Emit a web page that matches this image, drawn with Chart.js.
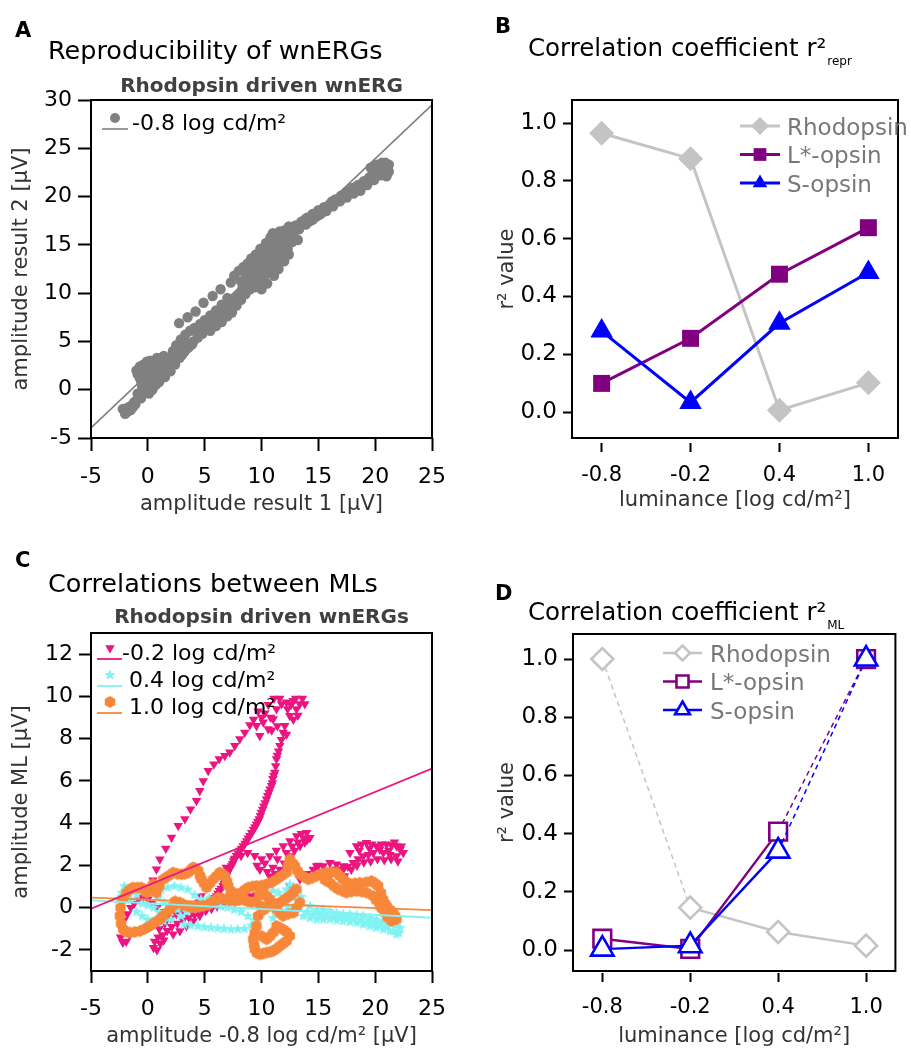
<!DOCTYPE html>
<html>
<head>
<meta charset="utf-8">
<script src="https://cdn.jsdelivr.net/npm/chart.js@4.4.1/dist/chart.umd.min.js"></script>
<style>
  html, body { margin: 0; padding: 0; background: #fff; }
  #wrap { position: relative; width: 911px; height: 1048px; overflow: hidden; }
  canvas { position: absolute; }
</style>
</head>
<body>
<div id="wrap">
  <canvas id="chartA" width="455" height="524" style="left:0;top:0"></canvas>
  <canvas id="chartB" width="456" height="524" style="left:455px;top:0"></canvas>
  <canvas id="chartC" width="455" height="524" style="left:0;top:524px"></canvas>
  <canvas id="chartD" width="456" height="524" style="left:455px;top:524px"></canvas>
</div>
<script>
const FONT = '"DejaVu Sans", sans-serif';
const GRAY = '#808080';
const PINK = '#EC1580';
const CYAN = '#80F2F2';
const ORANGE = '#F7873A';
const RHO = '#C4C4C4';
const PURPLE = '#800080';
const BLUE = '#0000FF';

// ---- panel A: amplitude result 1 vs result 2 (rhodopsin, -0.8 log cd/m²)
const rhoAmp = [
  [-2.2,-2.0],[-2.0,-2.5],[-1.8,-2.3],[-1.5,-2.1],[-1.3,-1.8],[-1.1,-1.5],[-1.4,-1.6],[-1.7,-1.8],[-1.0,-1.1],[-0.8,-0.6],
  [-0.6,-0.2],[-0.9,-0.4],[-0.5,0.3],[-0.3,0.5],[-0.6,0.9],[-0.9,1.6],[-1.0,2.0],[-0.7,2.4],[-0.4,2.6],[-0.1,2.9],
  [0.2,3.0],[0.5,2.8],[0.2,2.5],[-0.2,2.0],[0.0,1.6],[0.3,1.2],[0.6,1.6],[0.9,2.0],[1.2,2.6],[1.5,3.0],
  [1.8,3.2],[1.4,3.5],[1.1,3.2],[0.8,3.3],[1.3,1.8],[1.0,1.2],[0.7,0.5],[0.4,0.0],[0.1,-0.4],[0.5,0.4],
  [1.0,0.8],[1.5,1.3],[2.0,1.9],[2.4,2.6],[2.8,3.3],[3.2,3.9],[3.6,4.4],[2.2,4.0],[2.5,4.6],[2.9,5.2],
  [3.3,5.7],[3.7,6.1],[4.1,6.4],[4.6,6.8],[5.0,7.2],[5.5,7.7],[6.0,8.2],[6.5,8.8],[7.0,9.5],[4.0,5.0],
  [4.4,5.4],[4.8,5.8],[5.2,6.3],[5.7,6.7],[6.2,7.2],[6.7,7.8],[7.2,8.4],[7.6,9.1],[8.0,9.8],[8.3,10.4],
  [8.6,11.0],[8.9,11.6],[2.75,6.9],[3.5,7.5],[4.2,8.1],[4.9,9.0],[5.7,9.7],[6.4,10.4],[7.3,11.1],[7.6,11.8],
  [8.0,12.3],[8.2,11.2],[8.6,12.0],[9.0,12.6],[9.4,13.0],[9.8,13.5],[10.2,14.0],[10.6,14.5],[11.0,15.0],[11.3,15.6],
  [10.8,15.8],[10.4,15.2],[9.9,14.6],[9.5,14.0],[9.1,13.6],[8.8,13.1],[8.4,12.7],[9.2,12.0],[9.6,12.4],[10.0,12.9],
  [10.4,13.3],[10.8,13.8],[11.2,14.2],[11.6,14.8],[12.0,15.2],[12.3,14.6],[11.8,13.9],[11.4,13.2],[11.0,12.6],[10.6,12.1],
  [10.2,11.6],[9.8,11.1],[9.4,10.6],[10.0,10.4],[10.5,11.0],[11.1,11.8],[11.5,12.5],[12.0,13.3],[12.4,14.0],[11.0,16.2],
  [11.6,16.4],[12.2,16.1],[12.6,16.6],[13.0,17.0],[13.5,17.4],[14.0,17.8],[14.5,18.2],[15.0,18.6],[15.5,18.9],[16.0,19.2],
  [16.5,19.7],[17.0,20.1],[17.5,20.5],[18.0,20.9],[18.5,21.2],[19.0,21.6],[19.5,22.0],[20.0,22.4],[20.5,22.8],[21.0,23.2],
  [20.6,23.5],[20.1,23.3],[19.6,23.0],[21.2,22.6],[21.0,22.1],[20.5,22.2],[19.9,21.7],[19.3,21.2],[18.7,20.6],[18.1,20.3],
  [17.5,19.9],[16.9,19.5],[16.3,19.0],[15.7,18.5],[15.1,18.1],[14.5,17.6],[13.9,17.1],[13.3,16.6],[12.8,16.0],[13.2,15.5],
  [12.7,15.3],
  [-1.2,-1.3],[-0.6,-0.9],[-0.2,-0.1],[0.2,0.3],[-0.4,1.2],[-0.7,1.2],[0.4,2.0],[0.7,2.3],[1.6,2.2],[1.9,2.6],
  [2.2,3.0],[2.6,3.6],[3.0,4.3],[3.4,4.8],[3.0,3.6],[3.4,4.2],[3.9,4.7],[4.3,5.9],[4.7,6.3],[5.1,6.6],
  [5.4,7.1],[5.9,7.4],[6.3,7.6],[6.8,8.2],[7.3,8.8],[7.8,9.5],[5.5,6.1],[6.0,6.6],[6.5,7.0],[7.0,7.6],
  [7.4,8.0],[7.8,8.7],[8.2,9.3],[8.6,9.9],[9.0,10.4],[9.3,11.2],[8.4,10.0],[8.8,10.7],[9.0,11.5],[9.7,12.0],
  [10.1,12.4],[10.7,12.9],[11.0,13.4],[11.4,13.8],[10.3,13.7],[10.7,14.1],[11.2,14.6],[11.6,15.3],[12.0,15.8],[11.9,14.4],
  [12.5,15.4],[9.6,13.2],[10.0,13.9],[12.0,16.5],[12.4,16.9],[12.9,16.4],[13.4,17.0],[13.8,17.6],[14.2,17.4],[14.8,17.9],
  [15.3,18.3],[15.8,18.8],[16.2,19.5],[16.8,19.8],[17.3,20.2],[17.8,20.6],[18.3,21.0],[18.9,21.4],[19.4,21.8],[19.9,22.2],
  [20.3,22.5],[20.8,22.9],[20.3,23.0],[20.9,23.5],[21.2,23.3]
];
const fitA = [[-5, -3.95], [25, 29.5]];
const ticksAx = [-5, 0, 5, 10, 15, 20, 25];
const ticksAy = [-5, 0, 5, 10, 15, 20, 25, 30];

// ---- panels B and D: r² values per luminance
const luminance = [-0.8, -0.2, 0.4, 1.0];
const rhoRepr = [0.965, 0.877, 0.006, 0.101];
const lRepr = [0.099, 0.255, 0.477, 0.638];
const sRepr = [0.280, 0.033, 0.307, 0.483];
const rhoML = [1.0, 0.146, 0.062, 0.015];
const lML = [0.039, 0.004, 0.407, 1.0];
const sML = [0.003, 0.015, 0.340, 1.0];
const rTicks = [0, 0.2, 0.4, 0.6, 0.8, 1.0];

// ---- panel C: amplitude of other MLs vs -0.8 log cd/m²
const mlPink = [
  [-2.4,-1.4],[-2.2,-1.65],[-1.9,-1.6],[-1.6,-1.3],[-2.3,-1.0],[-2.1,-0.6],[-1.8,-0.3],[-1.5,0.0],[-1.2,0.2],[-0.8,0.4],
  [-0.4,0.5],[0.0,0.4],[0.4,0.2],[0.8,0.0],[1.2,-0.2],[1.6,-0.3],
  [0.5,-1.9],[0.8,-2.0],[0.6,-1.6],[0.9,-1.4],[1.3,-1.3],[1.7,-1.1],[2.1,-0.9],[2.6,-0.75],[3.1,-0.6],[3.6,-0.45],
  [4.1,-0.35],[4.6,-0.25],[5.1,-0.15],[5.6,-0.05],[6.1,0.05],[6.6,0.15],[7.1,0.25],[7.6,0.35],[8.1,0.4],[8.6,0.45],
  [9.1,0.55],[9.6,0.6],
  [0.2,0.8],[0.45,1.3],[0.76,1.82],[1.06,2.29],[1.58,2.8],[2.08,3.32],[2.67,3.87],[3.26,4.19],[3.75,4.66],[4.28,5.06],
  [4.57,5.53],[4.87,6.0],[5.31,6.48],[5.81,6.79],[6.28,7.03],[6.77,7.19],[7.21,7.35],[7.65,7.66],[8.09,7.98],[8.53,8.29],
  [8.97,8.64],
  [9.56,8.61],[9.85,8.14],[10.15,8.77],[10.59,8.45],[11.03,8.93],[11.32,9.4],[11.76,9.64],[12.2,9.72],[12.79,9.79],[13.37,9.64],
  [13.81,9.64],[13.08,9.4],[12.49,9.08],[12.05,8.61],[10.3,9.2],[10.8,9.0],
  [9.3,8.9],[9.7,9.3],[10.0,9.0],[10.6,9.6],[11.1,9.9],[11.6,9.9],[12.3,9.4],[12.6,9.6],[13.0,9.9],[13.6,9.9],
  [13.2,9.1],[12.8,8.9],[10.9,8.4],[11.4,8.6],[12.2,8.2],
  [11.9,8.29],[11.61,7.66],[11.4,7.2],[11.32,7.03],[11.17,6.4],[11.0,6.1],[10.88,5.77],[10.65,5.45],[10.44,5.13],[10.2,4.8],
  [9.99,4.5],[9.8,4.2],[9.56,3.95],[9.3,3.7],[8.97,3.4],[8.7,3.15],[8.39,2.92],[8.1,2.7],[7.8,2.45],[7.55,2.2],
  [7.36,1.97],[7.1,1.75],[6.92,1.5],[6.75,1.25],[6.63,1.03],[6.3,0.8],[6.04,0.55],[5.8,0.4],[5.6,0.24],[5.16,-0.08],
  [4.57,-0.39],[3.99,-0.63],[3.4,-0.87],[2.82,-1.11],[2.23,-1.26],
  [11.75,7.95],[11.5,7.4],[11.25,6.7],[11.08,6.25],[10.95,5.9],[10.75,5.6],[10.55,5.3],[10.32,4.95],[10.1,4.65],[9.9,4.35],
  [9.68,4.08],[9.43,3.82],[9.13,3.55],[8.83,3.28],[8.55,3.03],[8.25,2.8],[7.95,2.57],[7.67,2.33],[7.45,2.08],[7.23,1.86],
  [7.0,1.62],[6.83,1.37],[6.7,1.14],[6.45,0.9],[6.17,0.67],[5.9,0.47],
  [4.68,0.55],[5.4,1.0],[6.14,1.49],[6.9,1.9],[7.61,2.28],[8.2,2.45],[8.78,2.6],[9.4,2.45],[9.86,1.81],[10.3,2.1],
  [10.74,2.44],[11.3,2.7],[11.91,2.92],[12.5,3.15],[13.09,3.39],[13.5,3.5],[13.97,3.55],[14.26,3.31],[13.8,3.1],[13.38,2.92],
  [12.9,2.7],[12.5,2.44],[12.0,2.1],[11.62,1.81],[11.2,1.6],[10.74,1.49],[12.5,1.02],[13.38,1.34],
  [12.2,2.6],[12.7,2.9],[13.2,3.1],[13.7,3.3],[14.0,3.2],[11.4,2.3],[11.0,1.9],[10.5,1.7],[10.0,2.3],[9.6,2.0],
  [14.0,1.6],[14.55,1.81],[15.0,2.0],[15.43,1.97],[16.02,2.13],[16.6,2.05],[17.19,1.97],[17.78,2.6],[18.36,2.92],[18.8,3.0],
  [19.24,3.07],[19.7,3.0],[20.12,2.92],[20.55,3.0],[21.0,3.0],[21.45,2.95],[21.88,2.92],[22.2,2.75],[22.47,2.6],[21.88,2.44],
  [21.3,2.5],[20.71,2.6],[19.83,2.6],[19.4,2.5],[18.95,2.44],[18.5,2.3],[18.07,2.13],[17.6,1.95],[17.19,1.81],[16.75,1.8],
  [16.31,1.81],[14.85,1.97],
  [14.3,1.5],[14.9,1.6],[15.5,1.7],[16.1,1.6],[16.7,1.55],[17.3,1.5],[17.9,1.8],[18.4,2.0],[19.0,2.15],[19.6,2.2],
  [20.2,2.3],[20.8,2.25],[21.4,2.3],[22.0,2.2],[22.3,2.9],[21.7,3.1],[21.2,2.7],[20.4,2.75],[19.5,2.8],[18.6,2.7],
  [1.1,-1.7],[1.4,-1.55],[1.0,-1.0],[1.5,-0.75],[2.0,-0.5],[2.5,-0.3],[3.0,-0.2],[3.5,-0.05],[4.0,0.1],[4.5,0.25]
];
const mlCyan = [
  [-2.6,0.4],[-2.3,0.7],[-2.07,1.02],[-1.5,0.95],[-0.89,0.86],[-0.3,0.78],[0.28,0.7],[0.9,0.45],[1.45,0.23],[2.0,0.05],
  [2.62,-0.09],[2.04,-0.56],[1.4,-0.65],[0.87,-0.72],[0.4,-0.65],[-0.01,-0.56],[-0.5,-0.4],[-1.0,-0.2],
  [3.2,-0.8],[3.8,-0.85],[4.4,-0.88],[4.97,-0.92],[5.55,-0.95],[6.14,-0.98],[6.7,-1.0],[7.32,-1.03],[7.9,-1.02],[8.49,-1.0],
  [9.1,-0.85],[9.66,-0.72],[10.0,-0.3],[10.25,0.07],[9.7,0.15],[9.08,0.23],[8.3,0.3],[7.61,0.39],[6.9,0.45],[6.14,0.47],
  [5.4,0.45],[4.68,0.39],[4.1,0.6],[3.5,0.86],[2.9,0.95],[2.33,1.02],[1.75,0.95],[1.16,0.86],
  [10.8,0.5],[11.5,0.7],[12.2,0.86],[12.8,0.6],[13.2,0.3],[13.67,-0.4],[14.26,0.07],[14.85,-0.1],[15.43,-0.09],[16.0,-0.15],
  [16.6,-0.25],[17.19,-0.3],[17.78,-0.32],[18.36,-0.36],[18.95,-0.4],[19.54,-0.48],[20.12,-0.56],[20.7,-0.64],[21.29,-0.72],[21.75,-0.85],
  [22.18,-0.96],[21.88,-1.27],[21.3,-1.1],[20.71,-1.03],[20.1,-0.95],[19.54,-0.88],[18.95,-0.8],[18.36,-0.72],[17.78,-0.68],[17.19,-0.64],
  [16.6,-0.6],[16.02,-0.56],[15.43,-0.56],[14.85,-0.56],[14.26,-0.48],[13.0,-0.2],[12.3,0.0],[11.6,-0.2],[11.0,-0.5],
  [-2.0,0.5],[-1.5,0.4],[-1.0,0.6],[-0.5,0.2],[0.0,0.1],[0.5,0.0],[1.0,-0.2],[1.5,-0.3],[2.9,-0.4],[3.4,-0.2],
  [4.0,0.0],[4.6,0.1],[5.2,0.1],[5.8,0.15],[6.4,0.05],[7.0,0.0],[7.6,-0.1],[8.2,-0.2],[8.8,-0.4],[9.4,-0.6],
  [10.5,0.4],[11.0,0.8],[12.5,1.1],[13.5,0.5],[14.0,-0.2],[14.5,-0.35],[15.1,-0.35],[15.7,-0.4],[16.3,-0.45],[16.9,-0.5],
  [17.5,-0.5],[18.1,-0.55],[18.7,-0.6],[19.3,-0.7],[19.9,-0.75],[20.4,-0.8],[21.0,-0.9],[21.6,-1.1],[22.1,-1.2]
];
const mlOrange = [
  [-2.46,-0.39],[-2.35,-0.75],[-2.17,-1.03],[-1.9,-1.15],[-1.58,-1.18],[-1.15,-1.15],[-0.7,-1.11],[-0.25,-1.0],[0.18,-0.87],[0.62,-0.7],
  [1.06,-0.55],[1.35,-0.4],[1.64,-0.24],[1.95,-0.08],[2.23,0.08],[-2.4,0.0],[-2.2,0.4],[-1.88,0.71],[-1.6,0.85],[-1.29,0.95],
  [-0.9,0.95],[-0.56,0.95],[-0.3,0.85],[-0.12,0.71],[0.2,0.9],[0.47,1.11],[0.76,0.71],[1.0,1.0],[1.35,1.34],[1.8,1.5],
  [2.23,1.66],[2.6,1.6],[2.96,1.58],[3.25,1.6],[3.55,1.66],[3.8,1.8],[3.99,1.9],[4.2,1.85],[4.43,1.74],[4.6,1.5],
  [4.72,1.34],[4.95,1.15],[5.16,0.95],[5.45,1.15],[5.75,1.34],[6.05,1.5],[6.33,1.66],[6.55,1.6],[6.77,1.5],[6.95,1.25],
  [7.07,1.03],[7.3,0.8],[7.51,0.55],[7.9,0.65],[8.24,0.71],[8.55,0.85],[8.83,0.95],[9.2,1.0],[9.56,1.03],[10.0,1.05],
  [10.44,1.11],[10.9,1.2],[11.32,1.34],[11.75,1.5],[12.2,1.66],[12.35,2.0],[12.49,2.29],[12.75,2.1],[12.93,1.97],[13.15,1.75],
  [13.37,1.58],[13.75,1.45],[14.11,1.34],[14.5,1.42],[14.84,1.5],[15.3,1.6],[15.72,1.66],[16.15,1.68],[16.6,1.66],[16.9,1.5],
  [17.18,1.34],[17.5,1.2],[17.77,1.11],[18.2,1.15],[18.65,1.18],[19.2,1.2],[19.68,1.26],[20.0,1.15],[20.26,1.03],[20.5,0.7],
  [20.7,0.39],[20.85,0.2],[21.0,0.08],[21.3,-0.1],[21.58,-0.24],[21.75,-0.4],[21.88,-0.55],[21.44,-0.63],[21.1,-0.45],[20.85,-0.24],
  [20.6,-0.05],[20.41,0.08],[20.1,0.35],[19.82,0.55],[19.24,0.71],[18.8,0.76],[18.36,0.79],[17.9,0.76],[17.48,0.71],[17.1,0.8],
  [16.75,0.87],[16.4,1.0],[16.01,1.18],[15.6,1.3],
  [2.4,0.3],[2.82,0.24],[3.1,0.15],[3.4,0.08],[3.75,0.03],[4.13,0.0],[4.5,0.04],[4.87,0.08],[5.25,0.15],[5.6,0.24],
  [5.9,0.35],[6.19,0.47],[6.55,0.43],[6.92,0.39],[7.3,0.35],[7.65,0.32],[8.0,0.35],[8.39,0.39],[8.75,0.3],[9.12,0.24],
  [9.7,-0.39],[9.56,-0.87],[9.4,-1.2],[9.27,-1.5],[9.35,-1.75],[9.41,-1.97],[9.6,-2.15],[9.85,-2.21],[10.15,-2.17],[10.44,-2.13],
  [10.75,-2.1],[11.03,-2.05],[11.3,-1.95],[11.61,-1.82],[11.9,-1.7],[12.2,-1.58],[12.49,-1.34],[12.2,-1.15],[11.9,-1.03],[11.6,-0.95],
  [11.32,-0.87],[11.03,-1.18],[10.75,-1.35],[10.44,-1.5],[9.99,-1.34],
  [10.2,-0.1],[10.73,0.08],[11.2,0.15],[11.61,0.24],[12.05,0.4],[12.49,0.55],[12.8,0.7],[13.08,0.87],[13.37,0.24],[13.1,0.0],
  [12.79,-0.24],[12.35,-0.3],[11.9,-0.39],[11.6,-0.25],[11.32,-0.08],[11.0,0.2],[10.73,0.39],[10.45,0.55],[10.15,0.71],[9.8,0.6],
  [9.5,0.3],[9.9,0.1]
];
const fitPink = [[-5, -0.05], [25, 6.58]];
const fitCyan = [[-5, 0.34], [25, -0.48]];
const fitOrange = [[-5, 0.47], [25, -0.12]];
const ticksCx = [-5, 0, 5, 10, 15, 20, 25];
const ticksCy = [-2, 0, 2, 4, 6, 8, 10, 12];

const pairs = arr => arr.map(([x, y]) => ({ x, y }));
const zipXY = (xs, ys) => xs.map((x, i) => ({ x, y: ys[i] }));

// small canvases used as marker shapes that Chart.js lacks
function markerCanvas(r, color, draw) {
  const c = document.createElement('canvas');
  c.width = c.height = Math.ceil(r * 2 + 2);
  const g = c.getContext('2d');
  g.fillStyle = color;
  g.beginPath();
  draw(g, c.width / 2, r);
  g.closePath();
  g.fill();
  return c;
}
const star = (r, color) => markerCanvas(r, color, (g, m, R) => {
  for (let i = 0; i < 10; i++) {
    const rr = i % 2 ? R * 0.45 : R;
    const a = -Math.PI / 2 + i * Math.PI / 5;
    g.lineTo(m + rr * Math.cos(a), m + rr * Math.sin(a));
  }
});
const hexagon = (r, color) => markerCanvas(r, color, (g, m, R) => {
  for (let i = 0; i < 6; i++) {
    const a = -Math.PI / 2 + i * Math.PI / 3;
    g.lineTo(m + R * Math.cos(a), m + R * Math.sin(a));
  }
});

function scale(o) {
  return {
    type: 'linear', position: o.pos, min: o.min, max: o.max,
    afterFit(s) {
      if (o.pos === 'left') s.width = o.size; else s.height = o.size;
      // edge labels may overhang; keep the plot box where it is
      s.paddingLeft = s.paddingRight = s.paddingTop = s.paddingBottom = 0;
    },
    afterBuildTicks(s) { s.ticks = o.ticks.map(v => ({ value: v })); },
    ticks: {
      callback: o.fmt || (v => String(v)), color: '#000', padding: o.pad,
      maxRotation: 0, autoSkip: false, font: { family: FONT, size: o.fs || 22 }
    },
    grid: { drawOnChartArea: false, tickLength: o.tl, tickColor: '#000', tickWidth: 2, tickBorderDash: o.dash || [] },
    border: { display: false },
    title: {
      display: true, text: o.title, color: '#333',
      padding: o.pos === 'left' ? { top: o.tpad, bottom: 0 } : { top: 0, bottom: o.tpad },
      font: { family: FONT, size: 21, lineHeight: 1 }
    }
  };
}

function drawLegend(chart, L) {
  const ctx = chart.ctx;
  L.items.forEach((it, i) => {
    const mk = chart.data.datasets[it.marker];
    const ln = chart.data.datasets[it.line];
    const y = L.y0 + i * L.dy;
    ctx.save();
    ctx.setLineDash([]);
    ctx.strokeStyle = ln.borderColor;
    ctx.lineWidth = L.lineWidth;
    ctx.beginPath();
    ctx.moveTo(L.x0, y + L.lineDy);
    ctx.lineTo(L.x1, y + L.lineDy);
    ctx.stroke();
    ctx.fillStyle = mk.pointBackgroundColor;
    ctx.strokeStyle = mk.pointBorderColor;
    ctx.lineWidth = mk.pointBorderWidth;
    Chart.helpers.drawPoint(ctx, {
      pointStyle: mk.pointStyle, rotation: mk.pointRotation || 0,
      radius: it.radius || mk.pointRadius, borderWidth: mk.pointBorderWidth
    }, L.mx, y);
    ctx.fillStyle = L.color;
    ctx.font = L.font;
    ctx.textAlign = 'left';
    ctx.textBaseline = 'alphabetic';
    ctx.fillText(mk.label, L.tx, y + L.textDy);
    ctx.restore();
  });
}

function decor(texts, legend) {
  return {
    id: 'decor',
    afterDraw(chart) {
      const ctx = chart.ctx, a = chart.chartArea;
      ctx.save();
      ctx.strokeStyle = '#000';
      ctx.lineWidth = 2;
      ctx.strokeRect(a.left, a.top, a.right - a.left, a.bottom - a.top);
      texts.forEach(t => {
        ctx.font = t.font;
        ctx.fillStyle = t.color || '#000';
        ctx.textAlign = t.align || 'left';
        ctx.textBaseline = 'alphabetic';
        ctx.fillText(t.text, t.x, t.y);
        if (t.sub) {
          const w = ctx.measureText(t.text).width;
          ctx.font = t.sub.font;
          ctx.fillText(t.sub.text, t.x + w + 1, t.y + t.sub.dy);
        }
      });
      ctx.restore();
      if (legend) drawLegend(chart, legend);
    }
  };
}

const common = {
  responsive: false, animation: false,
  plugins: { legend: { display: false }, tooltip: { enabled: false }, title: { display: false } }
};

// ---------- A
new Chart(document.getElementById('chartA'), {
  type: 'scatter',
  data: {
    datasets: [
      { label: '-0.8 log cd/m²', data: pairs(rhoAmp), pointStyle: 'circle', pointRadius: 5.2,
        pointBackgroundColor: GRAY, pointBorderColor: GRAY, pointBorderWidth: 0, order: 2 },
      { label: 'fit', data: pairs(fitA), showLine: true, pointRadius: 0, borderColor: GRAY, borderWidth: 1.6, order: 1 }
    ]
  },
  options: Object.assign({}, common, {
    layout: { padding: { left: 0, top: 100, right: 23, bottom: 0 } },
    scales: {
      x: scale({ pos: 'bottom', min: -5, max: 25, ticks: ticksAx, size: 86, tl: 13, pad: 13, title: 'amplitude result 1 [µV]', tpad: 9 }),
      y: scale({ pos: 'left', min: -5, max: 30, ticks: ticksAy, size: 91, tl: 13, pad: 6, title: 'amplitude result 2 [µV]', tpad: 11 })
    }
  }),
  plugins: [decor([
    { text: 'A', x: 15, y: 37, font: 'bold 21px ' + FONT },
    { text: 'Reproducibility of wnERGs', x: 48, y: 59, font: '25.5px ' + FONT },
    { text: 'Rhodopsin driven wnERG', x: 261.5, y: 92, align: 'center', color: '#404040', font: 'bold 20px ' + FONT }
  ], {
    items: [{ marker: 0, line: 1, radius: 5 }],
    y0: 118, dy: 0, x0: 102, x1: 128, mx: 115, tx: 132, lineDy: 11, textDy: 12,
    lineWidth: 1.6, color: '#000', font: '22px ' + FONT
  })]
});

// ---------- B
function rSeries(label, values, color, style, radius, order, extra) {
  return Object.assign({
    label, data: zipXY(luminance, values), showLine: true, tension: 0,
    borderColor: color, borderWidth: 3,
    pointStyle: style, pointRadius: radius,
    pointBackgroundColor: color, pointBorderColor: color, pointBorderWidth: 0, order
  }, extra || {});
}
const lumScales = (top) => ({
  x: scale({ pos: 'bottom', min: -1.0, max: 1.2, ticks: luminance, size: top.xsize, tl: top.xtl, pad: top.xpad,
             dash: top.dash, fs: 21, fmt: v => v.toFixed(1), title: 'luminance [log cd/m²]', tpad: top.xtpad }),
  y: scale({ pos: 'left', min: top.ymin, max: top.ymax, ticks: rTicks, size: top.ysize, tl: 9, pad: 6, fs: 23,
             fmt: v => v.toFixed(1), title: 'r² value', tpad: 42 })
});

new Chart(document.getElementById('chartB'), {
  type: 'scatter',
  data: {
    datasets: [
      rSeries('Rhodopsin', rhoRepr, RHO, 'rectRot', 12.5, 3),
      rSeries('L*-opsin', lRepr, PURPLE, 'rect', 12, 2),
      rSeries('S-opsin', sRepr, BLUE, 'triangle', 13, 1)
    ]
  },
  options: Object.assign({}, common, {
    layout: { padding: { left: 0, top: 100, right: 1, bottom: 0 } },
    scales: lumScales({ xsize: 86, xtl: 14, xpad: 11, dash: [0, 5, 9, 100], xtpad: 13, ymin: -0.09, ymax: 1.08, ysize: 117 })
  }),
  plugins: [decor([
    { text: 'B', x: 40, y: 33, font: 'bold 21px ' + FONT },
    { text: 'Correlation coefficient r²', x: 73, y: 56, font: '24.5px ' + FONT,
      sub: { text: 'repr', font: '12px ' + FONT, dy: 9 } }
  ], {
    items: [{ marker: 0, line: 0, radius: 9 }, { marker: 1, line: 1, radius: 9 }, { marker: 2, line: 2, radius: 8.5 }],
    y0: 126, dy: 28.5, x0: 285, x1: 325, mx: 305, tx: 332, lineDy: 0, textDy: 8.5,
    lineWidth: 3, color: '#777', font: '23px ' + FONT
  })]
});

// ---------- C
new Chart(document.getElementById('chartC'), {
  type: 'scatter',
  data: {
    datasets: [
      { label: '-0.2 log cd/m²', data: pairs(mlPink), pointStyle: 'triangle', pointRotation: 180, pointRadius: 5.5,
        pointBackgroundColor: PINK, pointBorderColor: PINK, pointBorderWidth: 0, order: 4 },
      { label: ' 0.4 log cd/m²', data: pairs(mlCyan), pointStyle: star(5.8, CYAN), pointRadius: 5.8,
        pointBackgroundColor: CYAN, pointBorderColor: CYAN, pointBorderWidth: 0, order: 3 },
      { label: ' 1.0 log cd/m²', data: pairs(mlOrange), pointStyle: hexagon(6, ORANGE), pointRadius: 6,
        pointBackgroundColor: ORANGE, pointBorderColor: ORANGE, pointBorderWidth: 0, order: 2 },
      { label: 'fit -0.2', data: pairs(fitPink), showLine: true, pointRadius: 0, borderColor: PINK, borderWidth: 1.8, order: 1 },
      { label: 'fit 0.4', data: pairs(fitCyan), showLine: true, pointRadius: 0, borderColor: CYAN, borderWidth: 1.8, order: 1 },
      { label: 'fit 1.0', data: pairs(fitOrange), showLine: true, pointRadius: 0, borderColor: ORANGE, borderWidth: 1.8, order: 1 }
    ]
  },
  options: Object.assign({}, common, {
    layout: { padding: { left: 0, top: 109, right: 23, bottom: 0 } },
    scales: {
      x: scale({ pos: 'bottom', min: -5, max: 25, ticks: ticksCx, size: 77, tl: 12, pad: 13, title: 'amplitude -0.8 log cd/m² [µV]', tpad: 1 }),
      y: scale({ pos: 'left', min: -3, max: 13, ticks: ticksCy, size: 91, tl: 12, pad: 6, title: 'amplitude ML [µV]', tpad: 11 })
    }
  }),
  plugins: [decor([
    { text: 'C', x: 15, y: 43, font: 'bold 21px ' + FONT },
    { text: 'Correlations between MLs', x: 48, y: 68, font: '25.5px ' + FONT },
    { text: 'Rhodopsin driven wnERGs', x: 261.5, y: 99, align: 'center', color: '#404040', font: 'bold 20px ' + FONT }
  ], {
    items: [{ marker: 0, line: 3, radius: 5.5 }, { marker: 1, line: 4 }, { marker: 2, line: 5 }],
    y0: 124, dy: 27, x0: 97, x1: 122, mx: 110, tx: 122, lineDy: 11, textDy: 12,
    lineWidth: 1.8, color: '#000', font: '22px ' + FONT
  })]
});

// ---------- D
const dashAfter = (i) => ({
  borderDash: c => (c.p0DataIndex === i ? [5, 4] : undefined),
  borderWidth: c => (c.p0DataIndex === i ? 1.5 : undefined)
});
const openMarks = (color) => ({ pointBackgroundColor: '#fff', pointBorderColor: color, pointBorderWidth: 2.6, borderWidth: 2.4 });

new Chart(document.getElementById('chartD'), {
  type: 'scatter',
  data: {
    datasets: [
      rSeries('Rhodopsin', rhoML, RHO, 'rectRot', 11, 3, Object.assign(openMarks(RHO), { segment: dashAfter(0) })),
      rSeries('L*-opsin', lML, PURPLE, 'rect', 12.5, 2, Object.assign(openMarks(PURPLE), { segment: dashAfter(2) })),
      rSeries('S-opsin', sML, BLUE, 'triangle', 13, 1, Object.assign(openMarks(BLUE), { segment: dashAfter(2) }))
    ]
  },
  options: Object.assign({}, common, {
    layout: { padding: { left: 0, top: 110, right: 1, bottom: 0 } },
    scales: lumScales({ xsize: 77, xtl: 11, xpad: 13, dash: [0, 2, 9, 100], xtpad: 1, ymin: -0.072, ymax: 1.086, ysize: 118 })
  }),
  plugins: [decor([
    { text: 'D', x: 40, y: 76, font: 'bold 21px ' + FONT },
    { text: 'Correlation coefficient r²', x: 73, y: 96, font: '24.5px ' + FONT,
      sub: { text: 'ML', font: '12px ' + FONT, dy: 9 } }
  ], {
    items: [{ marker: 0, line: 0, radius: 7.5 }, { marker: 1, line: 1, radius: 8.5 }, { marker: 2, line: 2, radius: 8.5 }],
    y0: 129, dy: 28.5, x0: 208, x1: 247, mx: 227.5, tx: 255, lineDy: 0, textDy: 8.5,
    lineWidth: 2.4, color: '#777', font: '23px ' + FONT
  })]
});
</script>
</body>
</html>
